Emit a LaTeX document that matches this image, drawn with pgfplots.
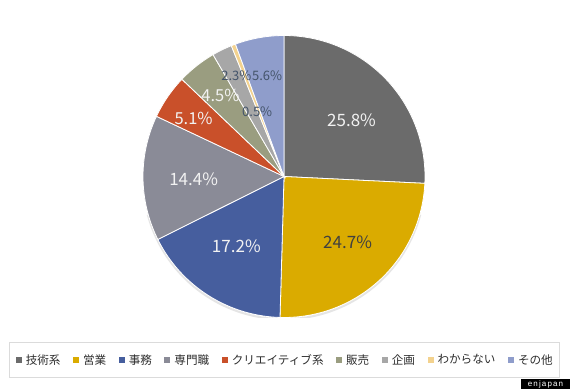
\documentclass[border=0pt]{standalone}
\usepackage{fontspec}
\setmainfont{Noto Sans CJK JP}
\newfontfamily\wmfont[LetterSpace=14]{Liberation Sans}
\usepackage{pgfplots}
\usepackage{pgfplotstable}
\usepackage{etoolbox}
\pgfplotsset{compat=1.18}

\definecolor{c1}{HTML}{6B6B6B}
\definecolor{c2}{HTML}{DAAB00}
\definecolor{c3}{HTML}{465E9E}
\definecolor{c4}{HTML}{8A8B97}
\definecolor{c5}{HTML}{C9502A}
\definecolor{c6}{HTML}{9A9D80}
\definecolor{c7}{HTML}{A7A7A7}
\definecolor{c8}{HTML}{F3D28E}
\definecolor{c9}{HTML}{8F9DCB}
\definecolor{tw}{HTML}{F2F2F2}
\definecolor{td}{HTML}{404040}
\definecolor{tb}{HTML}{44546A}

\pgfplotstableread[col sep=comma]{
name,value,fc,tc,lx,ly,fs
技術系,25.8,c1,tw,0.479,0.401,17
営業,24.7,c2,td,0.451,-0.465,17
事務,17.2,c3,tw,-0.338,-0.493,17
専門職,14.4,c4,tw,-0.641,-0.021,17
クリエイティブ系,5.1,c5,tw,-0.641,0.415,16.5
販売,4.5,c6,tw,-0.451,0.577,16.5
企画,2.3,c7,tb,-0.338,0.718,13
わからない,0.5,c8,tb,-0.190,0.458,13
その他,5.6,c9,tb,-0.120,0.718,13
}\piedata

\def\total{0}
\pgfplotsforeachungrouped \i in {0,...,8}{%
  \pgfplotstablegetelem{\i}{value}\of\piedata
  \pgfmathsetmacro\total{\total+\pgfplotsretval}%
}
\def\cum{0}
\def\slicecmds{}
\def\labelcmds{}
\pgfplotsforeachungrouped \i in {0,...,8}{%
  \pgfplotstablegetelem{\i}{value}\of\piedata \let\v\pgfplotsretval
  \pgfplotstablegetelem{\i}{name}\of\piedata \let\nm\pgfplotsretval
  \pgfplotstablegetelem{\i}{fc}\of\piedata \let\fc\pgfplotsretval
  \pgfplotstablegetelem{\i}{tc}\of\piedata \let\tc\pgfplotsretval
  \pgfplotstablegetelem{\i}{lx}\of\piedata \let\lx\pgfplotsretval
  \pgfplotstablegetelem{\i}{ly}\of\piedata \let\ly\pgfplotsretval
  \pgfplotstablegetelem{\i}{fs}\of\piedata \let\fs\pgfplotsretval
  \pgfmathsetmacro\a{90-(\cum/\total)*360}%
  \pgfmathsetmacro\cum{\cum+\v}%
  \pgfmathsetmacro\b{90-(\cum/\total)*360}%
  \xappto\slicecmds{\noexpand\addplot[fill=\fc, draw=white, line width=0.8pt, domain=\b:\a, samples=90] ({cos(x)},{sin(x)}) -- (axis cs:0,0) -- cycle;
    \noexpand\addlegendentry{\nm}}%
  \xappto\labelcmds{\noexpand\node[text=\tc, font=\noexpand\fontsize{\fs}{\fs}\noexpand\selectfont, inner sep=0pt] at (axis cs:\lx,\ly) {\v\noexpand\%};}%
}

\begin{document}
\begin{tikzpicture}
\path[use as bounding box, fill=white] (0,0) rectangle (570pt,389pt);
\begin{axis}[
  scale only axis, width=282pt, height=282pt,
  xmin=-1, xmax=1, ymin=-1, ymax=1,
  hide axis,
  at={(284pt,212.5pt)}, anchor=origin,
  legend columns=-1,
  legend image code/.code={\fill[#1,draw=none] (0pt,-2.5pt) rectangle (6pt,3.5pt);},
  legend style={at={(0.502,-0.151)}, anchor=center, draw=black!14, line width=0.75pt,
    fill=white, inner xsep=6pt, inner ysep=11pt,
    font=\fontsize{11.6}{12}\selectfont, text=black!82,
    nodes={inner sep=0.5pt},
    /tikz/every odd column/.append style={column sep=3.5pt},
    /tikz/every even column/.append style={column sep=12pt}},
]
\addplot[forget plot, draw=black!10, line width=2pt, domain=195:345, samples=80] ({cos(x)},{sin(x)-0.012});
\slicecmds
\labelcmds
\end{axis}
\node[fill=black, text=white, inner sep=0pt, minimum width=49pt, minimum height=10pt,
  font=\wmfont\fontsize{8}{8}\selectfont] at (545.5pt,5pt) {enjapan};
\end{tikzpicture}
\end{document}
